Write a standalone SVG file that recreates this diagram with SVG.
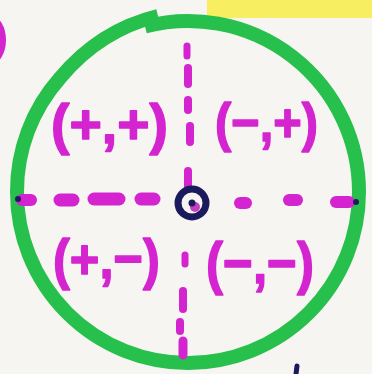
<svg xmlns="http://www.w3.org/2000/svg" width="372" height="374" viewBox="0 0 372 374">
<style>
.dash{stroke:#d424d0;stroke-linecap:round;fill:none}
.lbl{font-family:"Liberation Sans","DejaVu Sans",sans-serif;font-weight:bold;fill:#d424d0;stroke:#d424d0;stroke-width:1.5;stroke-linejoin:round}
.ink{fill:#1b1a5c}
</style>
<rect width="372" height="374" fill="#f7f5f1"/>
<rect x="207" y="0" width="165" height="18" fill="#f7ee62"/>
<ellipse cx="-9" cy="40" rx="15" ry="24" fill="#d424d0"/>
<g id="circle">
<path d="M145,26.5 A171,171 0 0 1 359,192 A171,171 0 0 1 188,363 A171,171 0 0 1 17,192 A171,171 0 0 1 60,78 Q100,30 158,16" fill="none" stroke="#27c04c" stroke-width="14"/>
</g>
<g id="axes">
<line class="dash" x1="22" y1="200" x2="31" y2="200" stroke-width="12"/>
<line class="dash" x1="60" y1="200" x2="73" y2="200" stroke-width="13"/>
<line class="dash" x1="94" y1="199" x2="119" y2="199" stroke-width="13"/>
<line class="dash" x1="141" y1="199" x2="154" y2="199" stroke-width="13"/>
<line class="dash" x1="240" y1="203" x2="246" y2="203" stroke-width="12"/>
<line class="dash" x1="289" y1="200" x2="297" y2="200" stroke-width="12"/>
<line class="dash" x1="336" y1="202" x2="349" y2="202" stroke-width="12"/>
<circle class="ink" cx="18" cy="199" r="3"/>
<circle class="ink" cx="356" cy="202" r="3"/>
<line class="dash" x1="187" y1="46" x2="187" y2="56" stroke-width="7"/>
<line class="dash" x1="188" y1="68" x2="188" y2="84" stroke-width="8"/>
<line class="dash" x1="188" y1="100" x2="188" y2="110" stroke-width="8"/>
<line class="dash" x1="190" y1="126" x2="190" y2="142" stroke-width="8"/>
<line class="dash" x1="188" y1="171" x2="188" y2="186" stroke-width="8"/>
<line class="dash" x1="185" y1="255" x2="185" y2="264" stroke-width="7"/>
<line class="dash" x1="183" y1="291" x2="183" y2="309" stroke-width="8"/>
<line class="dash" x1="180" y1="322" x2="180" y2="331" stroke-width="8"/>
<line class="dash" x1="183" y1="341" x2="183" y2="355" stroke-width="9"/>
<path d="M296,374 L297,366" stroke="#1b1a5c" stroke-width="5" stroke-linecap="round"/>
</g>
<g id="origin">
<circle cx="192" cy="203" r="14" fill="#f7f5f1" stroke="#1b1a5c" stroke-width="7"/>
<circle cx="195" cy="207" r="5" fill="#c43fc0"/>
<circle class="ink" cx="192" cy="203" r="3.5"/>
</g>
<g id="q1"><text class="lbl" x="51" y="143" font-size="56" textLength="117" lengthAdjust="spacingAndGlyphs">(+,+)</text></g>
<g id="q2"><text class="lbl" x="215" y="141" font-size="54" textLength="103" lengthAdjust="spacingAndGlyphs">(−,+)</text></g>
<g id="q3"><text class="lbl" x="53" y="278" font-size="56" textLength="107" lengthAdjust="spacingAndGlyphs">(+,−)</text></g>
<g id="q4"><text class="lbl" x="206" y="283" font-size="58" textLength="108" lengthAdjust="spacingAndGlyphs">(−,−)</text></g>
</svg>
